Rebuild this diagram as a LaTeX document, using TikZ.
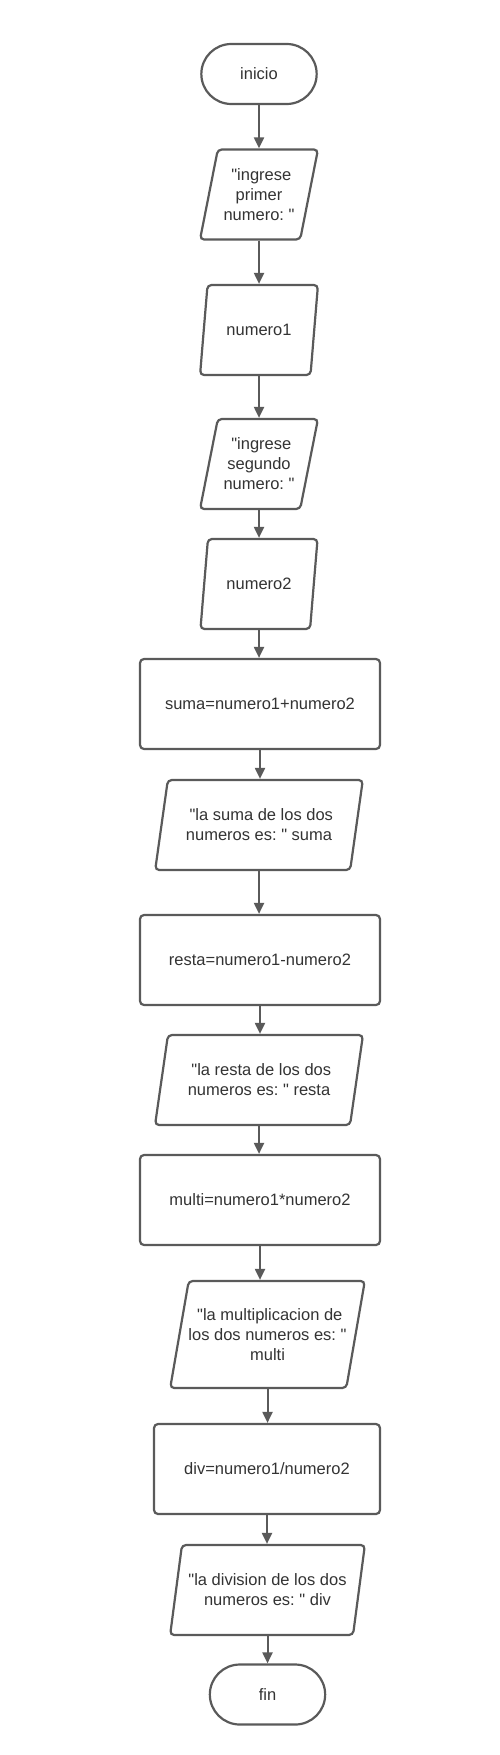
\documentclass[tikz,border=0pt]{standalone}
\usepackage{fontspec}
\setmainfont{Liberation Sans}[Ligatures=TeXOff]
\usetikzlibrary{shapes.geometric,shapes.misc,arrows.meta}
\frenchspacing

\definecolor{linegray}{HTML}{5A5A5A}
\definecolor{textgray}{HTML}{333333}

\tikzset{
  every box/.style={
    draw=linegray,
    line width=2.2pt,
    text=textgray,
    fill=white,
    font=\fontsize{16.5}{20}\selectfont,
    align=center
  },
  box terminal/.style={
    rounded rectangle,
    minimum width=122pt,
    minimum height=60pt
  },
  box io/.style={
    trapezium,
    trapezium left angle=75,
    trapezium right angle=105,
    trapezium stretches,
    rounded corners=4pt,
    minimum height=90pt,
    inner xsep=1pt
  },
  box process/.style={
    rectangle,
    rounded corners=4pt,
    minimum width=240pt,
    minimum height=90pt
  },
}

\begin{document}
\begin{tikzpicture}[x=1pt, y=-1pt, >={Triangle[length=11pt,width=10pt]}]
  \useasboundingbox (0,0) rectangle (500,1755);

  \node [every box/.try, box terminal] (inicio) at (259,74) {inicio};
  \node [every box/.try, box io, minimum width=118pt] (msg1) at (259,194.5) {\ "ingrese\\primer\\numero: "};
  \node [every box/.try, box io, minimum width=118pt] (num1) at (259,330) {numero1};
  \node [every box/.try, box io, minimum width=118pt] (msg2) at (259,464) {\ "ingrese\\segundo\\numero: "};
  \node [every box/.try, box io, minimum width=118pt] (num2) at (259,584) {numero2};
  \node [every box/.try, box process] (suma) at (260,704) {suma=numero1+numero2};
  \node [every box/.try, box io, minimum width=208pt] (outsuma) at (259,825) {\ "la suma de los dos\\numeros es: " suma};
  \node [every box/.try, box process] (resta) at (260,960) {resta=numero1-numero2};
  \node [every box/.try, box io, minimum width=208pt] (outresta) at (259,1080) {\ "la resta de los dos\\numeros es: " resta};
  \node [every box/.try, box process] (multi) at (260,1200) {multi=numero1*numero2};
  \node [every box/.try, box io, minimum width=195pt, minimum height=107pt, inner xsep=-12pt] (outmulti) at (267.5,1334.5) {\ "la multiplicacion de\\los dos numeros es: "\\multi};
  \node [every box/.try, box process, minimum width=226pt] (div) at (267,1469) {div=numero1/numero2};
  \node [every box/.try, box io, minimum width=195pt, inner xsep=-4pt] (outdiv) at (267.5,1590) {"la division de los dos\\numeros es: " div};
  \node [every box/.try, box terminal] (fin) at (267.5,1694.5) {fin};

  \foreach \a/\b in {inicio/msg1, msg1/num1, num1/msg2, msg2/num2, num2/suma,
                     suma/outsuma, outsuma/resta, resta/outresta, outresta/multi,
                     multi/outmulti, outmulti/div, div/outdiv, outdiv/fin}
    \draw [->, draw=linegray, fill=linegray, line width=2pt] (\a.south) -- (\a.south |- \b.north);

\end{tikzpicture}
\end{document}
